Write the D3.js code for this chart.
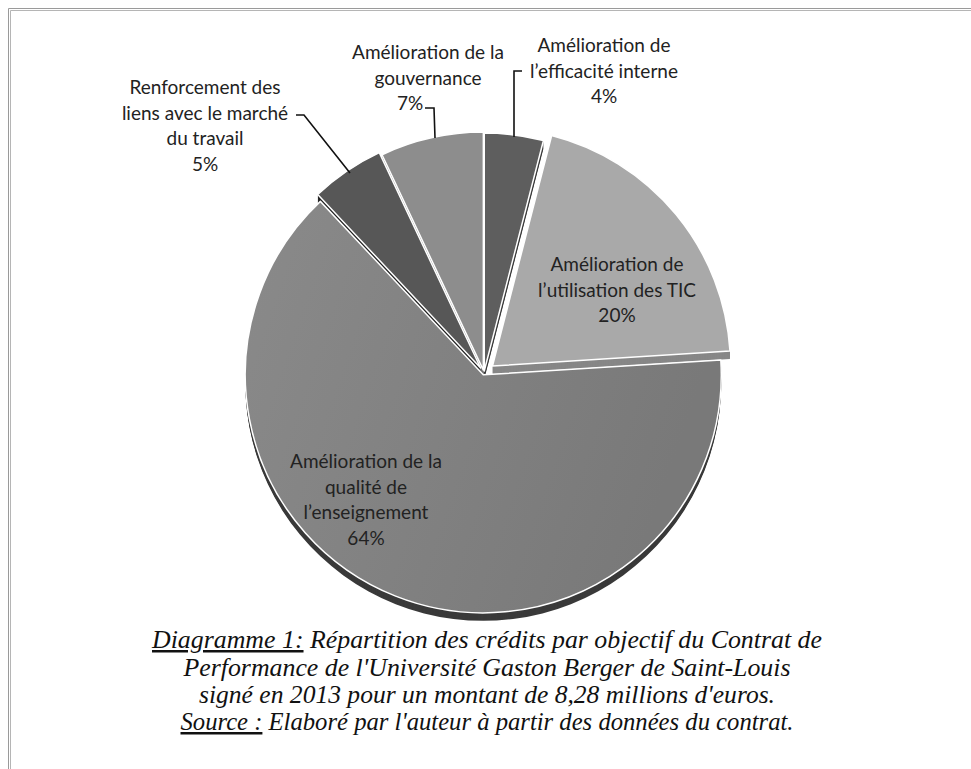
<!DOCTYPE html>
<html><head><meta charset="utf-8">
<script src="https://cdn.jsdelivr.net/npm/d3@7"></script>
<style>body{margin:0;background:#fff}</style>
</head><body>
<svg id="c" width="971" height="769"></svg>
<script>
// ---- data ----
const categories = [
  "Amélioration de l’efficacité interne",
  "Amélioration de l’utilisation des TIC",
  "Amélioration de la qualité de l’enseignement",
  "Renforcement des liens avec le marché du travail",
  "Amélioration de la gouvernance"
];
const values = [4, 20, 64, 5, 7];
const labelLines = [
  ["Amélioration de", "l’efficacité interne"],
  ["Amélioration de", "l’utilisation des TIC"],
  ["Amélioration de la", "qualité de", "l’enseignement"],
  ["Renforcement des", "liens avec le marché", "du travail"],
  ["Amélioration de la", "gouvernance"]
];
const captionLines = [
  [["Diagramme 1:", true], [" Répartition des crédits par objectif du Contrat de", false]],
  [["Performance de l'Université Gaston Berger de Saint-Louis", false]],
  [["signé en 2013 pour un montant de 8,28 millions d'euros.", false]],
  [["Source :", true], [" Elaboré par l'auteur à partir des données du contrat.", false]]
];

// ---- styles / layout ----
const fills = ["#5e5e5e", "#a9a9a9", "url(#g64)", "#575757", "#8d8d8d"];
const sideFills = ["#3c3c3c", "#878787", "#3a3a3a", "#202020", "#6e6e6e"];
const explode = [2, 11, 2, 6, 3];
const cx = 484, cy = 373, R = 238, depth = 8;
// label anchor (center x, first baseline)
const labelPos = [[604, 52], [617, 271], [366, 468], [205, 94], [428, 59]];
const pctShift = [0, 0, 0, 0, -18];
const lineH = 25.5;
const leaders = [
  [[522, 71], [514, 71], [514, 137]],
  null, null,
  [[296, 115], [304, 115], [350, 173]],
  [[425, 108], [434, 108], [435, 138]]
];
const capBase = [648, 676, 703, 730];
const capWidth = [670, 607, 576, 613];

const svg = d3.select("#c");
const defs = svg.append("defs");
const g64 = defs.append("linearGradient").attr("id", "g64")
  .attr("x1", "0").attr("x2", "1").attr("y1", "0").attr("y2", "0.3");
g64.append("stop").attr("offset", "0").attr("stop-color", "#8a8a8a");
g64.append("stop").attr("offset", "1").attr("stop-color", "#797979");

// frame
svg.append("path").attr("d", "M8.5,769 V8.5 H971").attr("fill", "none").attr("stroke", "#9a9a9a").attr("stroke-width", 1);
svg.append("path").attr("d", "M10.5,769 V10.5 H971").attr("fill", "none").attr("stroke", "#b5b5b5").attr("stroke-width", 1);

const pie = d3.pie().sort(null).value(d => d).startAngle(0).endAngle(2 * Math.PI);
const arcs = pie(values);
const arc = d3.arc().innerRadius(0).outerRadius(R);

arcs.forEach((a, i) => {
  const mid = (a.startAngle + a.endAngle) / 2;
  a.dx = explode[i] * Math.sin(mid);
  a.dy = -explode[i] * Math.cos(mid);
});

const gPie = svg.append("g");
const wallOrder = [0, 4, 3, 1, 2];
wallOrder.forEach(i => {
  const a = arcs[i];
  for (let k = depth; k >= 1; k--) {
    gPie.append("path").attr("d", arc(a))
      .attr("transform", `translate(${cx + a.dx},${cy + a.dy + k})`)
      .attr("fill", sideFills[i]);
  }
});
wallOrder.forEach(i => {
  const a = arcs[i];
  gPie.append("path").attr("d", arc(a))
    .attr("transform", `translate(${cx + a.dx},${cy + a.dy})`)
    .attr("fill", fills[i])
    .attr("stroke", "#fff").attr("stroke-width", 1.5).attr("stroke-linejoin", "round");
});

// leaders
leaders.forEach(l => {
  if (!l) return;
  svg.append("path").attr("d", d3.line()(l)).attr("fill", "none")
    .attr("stroke", "#111").attr("stroke-width", 1.6);
});

// labels
const labelFont = "Lato, 'Open Sans', sans-serif";
arcs.forEach((a, i) => {
  const lines = labelLines[i].concat([d3.format(".0%")(values[i] / 100)]);
  const t = svg.append("text").attr("text-anchor", "middle")
    .attr("font-family", labelFont).attr("font-size", 19).attr("fill", "#222");
  lines.forEach((s, j) => {
    const isPct = j === lines.length - 1;
    t.append("tspan").attr("x", labelPos[i][0] + (isPct ? pctShift[i] : 0))
      .attr("y", labelPos[i][1] + j * lineH).text(s);
  });
});

// caption
captionLines.forEach((parts, j) => {
  const t = svg.append("text").attr("x", 487).attr("y", capBase[j]).attr("text-anchor", "middle")
    .attr("font-family", "'Liberation Serif', 'DejaVu Serif', serif").attr("font-style", "italic")
    .attr("font-size", 25).attr("fill", "#111");
  parts.forEach(p => {
    const ts = t.append("tspan").text(p[0]);
    if (p[1]) ts.style("text-decoration", "underline");
  });
  t.attr("textLength", capWidth[j]).attr("lengthAdjust", "spacingAndGlyphs");
});
</script>
</body></html>
